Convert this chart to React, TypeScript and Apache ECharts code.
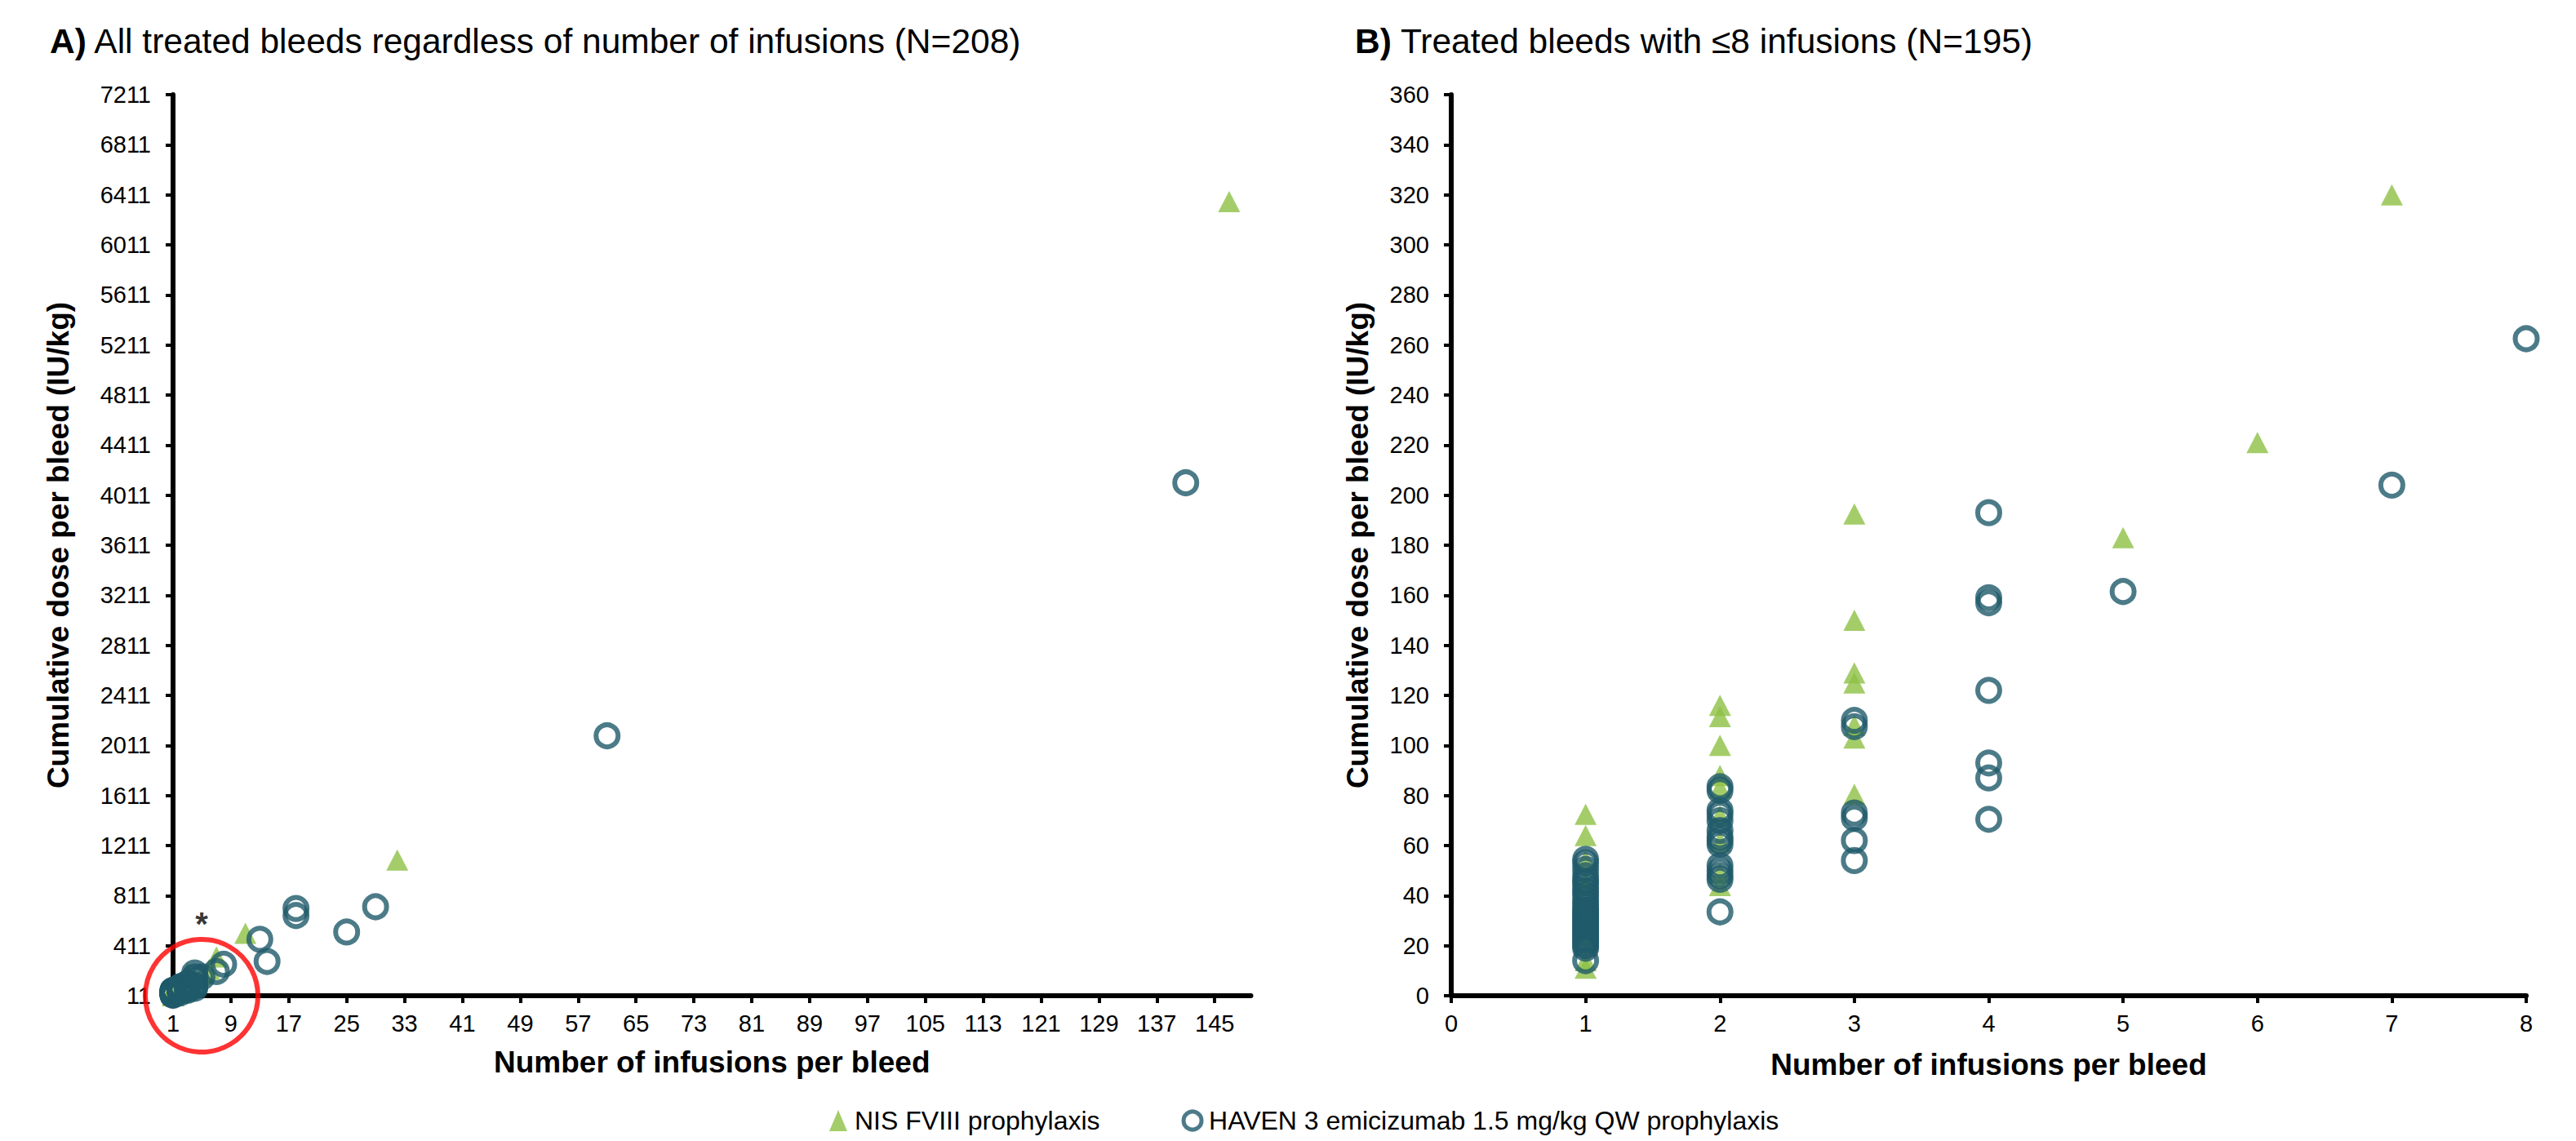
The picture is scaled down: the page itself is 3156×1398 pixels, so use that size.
import React, { useEffect, useRef } from 'react';
import * as echarts from 'echarts';

const NIS_NAME = 'NIS FVIII prophylaxis';
const HAVEN_NAME = 'HAVEN 3 emicizumab 1.5 mg/kg QW prophylaxis';

// Bleeds with <=8 infusions: [number of infusions, cumulative dose IU/kg]
const nisLow: [number, number][] = [
  [1, 72.5], [1, 64], [1, 54], [1, 45.5], [1, 44], [1, 24], [1, 14], [1, 11],
  [2, 116], [2, 111.5], [2, 100], [2, 88], [2, 83], [2, 72], [2, 61.5], [2, 49], [2, 44],
  [3, 192.5], [3, 150], [3, 129], [3, 125], [3, 108], [3, 103], [3, 80.5],
  [5, 183], [6, 221], [7, 320],
];
const havenLow: [number, number][] = [
  [1, 54.5], [1, 53], [1, 50.5], [1, 48], [1, 46], [1, 45], [1, 43], [1, 41.5], [1, 40],
  [1, 38], [1, 36.5], [1, 35], [1, 34], [1, 33], [1, 32], [1, 31], [1, 30], [1, 29],
  [1, 28], [1, 27], [1, 26], [1, 25], [1, 24], [1, 23], [1, 22], [1, 21], [1, 20], [1, 19], [1, 14],
  [2, 83.5], [2, 82], [2, 74], [2, 72.5], [2, 70], [2, 66], [2, 63.5], [2, 62], [2, 60.5],
  [2, 52], [2, 50], [2, 48], [2, 46.5], [2, 33.5],
  [3, 110], [3, 107.5], [3, 73], [3, 71], [3, 62], [3, 54],
  [4, 193], [4, 159], [4, 157], [4, 122], [4, 93], [4, 87], [4, 70.5],
  [5, 161.5], [7, 204], [8, 262.5],
];
// Additional bleeds with >8 infusions (panel A only)
const nisHigh: [number, number][] = [[11, 510], [32, 1095], [147, 6357]];
const havenHigh: [number, number][] = [
  [13, 462], [14, 285], [18, 708], [18, 652], [25, 520], [29, 722], [61, 2088], [141, 4110],
];
// Highlight circle (with asterisk) around the <=8 infusion cluster in panel A
const highlightPoint: [number, number][] = [[4.95, 11]];

const panelAXTicks = [1, 9, 17, 25, 33, 41, 49, 57, 65, 73, 81, 89, 97, 105, 113, 121, 129, 137, 145];
const panelAYTicks = [11, 411, 811, 1211, 1611, 2011, 2411, 2811, 3211, 3611, 4011, 4411, 4811, 5211, 5611, 6011, 6411, 6811, 7211];

const FONT = 'Liberation Sans, Arial, Helvetica, sans-serif';
const GREEN = '#8DC045';
const TEAL = '#1F5A6A';

const plain = (v: number) => String(v);
const axisLineStyle = { show: true, onZero: false, lineStyle: { color: '#000', width: 6 } };
const axisTickStyle = { show: true, length: 9, lineStyle: { color: '#000', width: 4 } };
const tickLabel = { color: '#000', fontSize: 29, fontFamily: FONT, formatter: plain };
const nameStyle = { color: '#000', fontSize: 37, fontWeight: 'bold' as const, fontFamily: FONT };
const titleStyle = {
  fontSize: 42.5, fontWeight: 'normal', color: '#000', fontFamily: FONT,
  rich: { b: { fontSize: 42.5, fontWeight: 'bold', color: '#000', fontFamily: FONT } },
};

function nisSeries(idx: number, data: [number, number][]) {
  return {
    name: NIS_NAME,
    type: 'scatter',
    xAxisIndex: idx,
    yAxisIndex: idx,
    symbol: 'triangle',
    symbolSize: [27, 26],
    itemStyle: { color: GREEN },
    silent: true,
    data,
  };
}
function havenSeries(idx: number, data: [number, number][]) {
  return {
    name: HAVEN_NAME,
    type: 'scatter',
    xAxisIndex: idx,
    yAxisIndex: idx,
    symbol: 'circle',
    symbolSize: 27,
    itemStyle: { color: 'rgba(0,0,0,0)', borderColor: TEAL, borderWidth: 6 },
    silent: true,
    data,
  };
}

const option = {
  animation: false,
  backgroundColor: '#fff',
  textStyle: { fontFamily: FONT },
  title: [
    {
      text: '{b|A)} All treated bleeds regardless of number of infusions (N=208)',
      left: 56,
      top: 24,
      textStyle: titleStyle,
    },
    {
      text: '{b|B)} Treated bleeds with ≤8 infusions (N=195)',
      left: 1655,
      top: 24,
      textStyle: titleStyle,
    },
  ],
  legend: {
    left: 1011,
    top: 1352,
    itemWidth: 22,
    itemHeight: 26,
    itemGap: 100,
    selectedMode: false,
    textStyle: { color: '#000', fontSize: 32, fontFamily: FONT, padding: [0, 0, 0, 4] },
    data: [
      { name: NIS_NAME, icon: 'triangle' },
      { name: HAVEN_NAME, icon: 'circle', itemStyle: { borderWidth: 5 } },
    ],
  },
  grid: [
    { left: 212, top: 116, width: 1320.5, height: 1104, containLabel: false },
    { left: 1778, top: 116, width: 1317, height: 1104, containLabel: false },
  ],
  xAxis: [
    {
      type: 'value', gridIndex: 0, min: 1, max: 150,
      name: 'Number of infusions per bleed', nameLocation: 'middle', nameGap: 63,
      nameTextStyle: nameStyle,
      axisLine: axisLineStyle,
      axisTick: { ...axisTickStyle, customValues: panelAXTicks },
      axisLabel: { ...tickLabel, margin: 19, customValues: panelAXTicks },
      splitLine: { show: false },
    },
    {
      type: 'value', gridIndex: 1, min: 0, max: 8, interval: 1,
      name: 'Number of infusions per bleed', nameLocation: 'middle', nameGap: 66,
      nameTextStyle: nameStyle,
      axisLine: axisLineStyle,
      axisTick: axisTickStyle,
      axisLabel: { ...tickLabel, margin: 19 },
      splitLine: { show: false },
    },
  ],
  yAxis: [
    {
      type: 'value', gridIndex: 0, min: 11, max: 7211,
      name: 'Cumulative dose per bleed (IU/kg)', nameLocation: 'middle', nameGap: 122,
      nameTextStyle: nameStyle,
      axisLine: axisLineStyle,
      axisTick: { ...axisTickStyle, customValues: panelAYTicks },
      axisLabel: { ...tickLabel, margin: 27, customValues: panelAYTicks },
      splitLine: { show: false },
    },
    {
      type: 'value', gridIndex: 1, min: 0, max: 360, interval: 20,
      name: 'Cumulative dose per bleed (IU/kg)', nameLocation: 'middle', nameGap: 96,
      nameTextStyle: nameStyle,
      axisLine: axisLineStyle,
      axisTick: axisTickStyle,
      axisLabel: { ...tickLabel, margin: 27 },
      splitLine: { show: false },
    },
  ],
  series: [
    nisSeries(0, [...nisLow, ...nisHigh]),
    havenSeries(0, [...havenLow, ...havenHigh]),
    {
      name: 'highlight',
      type: 'scatter',
      xAxisIndex: 0,
      yAxisIndex: 0,
      symbol: 'circle',
      symbolSize: 138,
      clip: false,
      silent: true,
      z: 5,
      itemStyle: { color: 'rgba(0,0,0,0)', borderColor: '#FF0000', borderWidth: 6 },
      label: { show: true, formatter: '*', position: 'top', distance: -4, fontSize: 40,
        fontWeight: 'bold', color: '#000', fontFamily: FONT },
      data: highlightPoint,
    },
    nisSeries(1, nisLow),
    havenSeries(1, havenLow),
  ],
};

export default function App() {
  const ref = useRef<HTMLDivElement>(null);
  useEffect(() => {
    if (!ref.current) return;
    const chart = echarts.init(ref.current, undefined, { renderer: 'svg' });
    chart.setOption(option as any);
    return () => chart.dispose();
  }, []);
  return (
    <div
      ref={ref}
      style={{ position: 'fixed', left: 0, top: 0, width: 3156, height: 1398, background: '#fff' }}
    />
  );
}
